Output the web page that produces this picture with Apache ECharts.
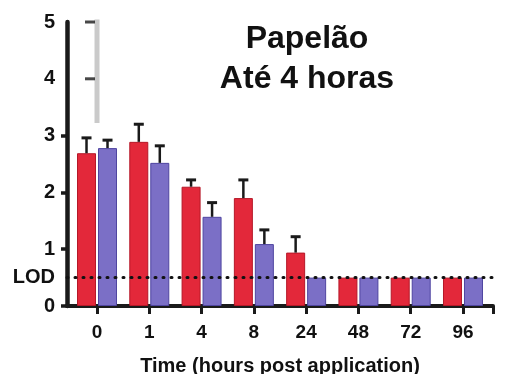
<!DOCTYPE html>
<html><head><meta charset="utf-8">
<script src="https://cdn.jsdelivr.net/npm/echarts@6/dist/echarts.min.js"></script>
<style>html,body{margin:0;padding:0;background:#fff}#c{width:515px;height:374px}</style>
</head><body><div id="c"></div>
<script>
var categories = ['0','1','4','8','24','48','72','96'];
var redValues  = [2.69, 2.89, 2.10, 1.90, 0.94, 0.5, 0.5, 0.5];
var redErrTop  = [2.96, 3.20, 2.22, 2.22, 1.22, null, null, null];
var blueValues = [2.78, 2.52, 1.57, 1.09, 0.5, 0.5, 0.5, 0.5];
var blueErrTop = [2.92, 2.82, 1.82, 1.34, null, null, null, null];
var lod = 0.5;
var yLabelValues = [0, 0.5, 1, 2, 3, 4, 5];
var yTickValues = [0, 1, 2, 3];
var bracketLine = [[0, 5.07], [0, 3.22]];
var bracketTicks = [[0, 5], [0, 4]];

var FONT = 'Liberation Sans';
var BAR_W = 19, OFFS = 10.5;
var xMin = -0.574, xMax = 7.574;

function barData(vals){ return vals.map(function(v,i){ return [i, v]; }); }
function errData(vals, tops){
  var d = [];
  tops.forEach(function(t,i){ if (t != null) d.push([i, vals[i], t]); });
  return d;
}
function errRender(offset){
  return function(params, api){
    var x = api.value(0), lo = api.value(1), hi = api.value(2);
    var p1 = api.coord([x, lo]), p2 = api.coord([x, hi]);
    var cx = p1[0] + offset;
    return {type:'group', children:[
      {type:'line', shape:{x1:cx, y1:p1[1], x2:cx, y2:p2[1]}, style:{stroke:'#1a1a1a', lineWidth:2.5}},
      {type:'line', shape:{x1:cx-5, y1:p2[1], x2:cx+5, y2:p2[1]}, style:{stroke:'#1a1a1a', lineWidth:3}}
    ]};
  };
}

var chart = echarts.init(document.getElementById('c'));
chart.setOption({
  animation:false,
  backgroundColor:'#fff',
  title:{
    text:'Papelão\nAté 4 horas', left:302, top:14, textAlign:'center',
    textStyle:{fontFamily:FONT, fontSize:32, fontWeight:'bold', lineHeight:40, color:'#111'}
  },
  grid:{left:67, right:22, top:22, bottom:68, containLabel:false, outerBoundsMode:'none'},
  xAxis:{
    type:'value', min:xMin, max:xMax,
    name:'Time (hours post application)', nameLocation:'middle', nameGap:50,
    nameTextStyle:{fontFamily:FONT, fontSize:20, fontWeight:'bold', color:'#111'},
    axisLine:{show:true, onZero:false, lineStyle:{color:'#1a1a1a', width:4}},
    axisTick:{show:true, length:8, lineStyle:{color:'#1a1a1a', width:3}, customValues:[0,1,2,3,4,5,6,7,xMax]},
    axisLabel:{fontFamily:FONT, fontSize:19, fontWeight:'bold', color:'#111', margin:17,
      customValues:[0,1,2,3,4,5,6,7], formatter:function(v){ return categories[Math.round(v)]; }},
    splitLine:{show:false}
  },
  yAxis:{
    type:'value', min:0, max:5, interval:1,
    axisLine:{show:true, onZero:false, lineStyle:{color:'#1a1a1a', width:4.5}},
    axisTick:{show:true, length:6, lineStyle:{color:'#1a1a1a', width:3.5}, customValues:yTickValues},
    axisLabel:{fontFamily:FONT, fontSize:20, fontWeight:'bold', color:'#111', margin:12,
      customValues:yLabelValues, formatter:function(v){ return v === lod ? 'LOD' : String(v); }},
    splitLine:{show:false}
  },
  series:[
    {type:'line', data:bracketLine, symbol:'none', lineStyle:{color:'#cacaca', width:5}, z:1, silent:true},
    {type:'scatter', data:bracketTicks, symbol:'rect', symbolSize:[10,3], symbolOffset:[-7,0], itemStyle:{color:'#1a1a1a'}, z:3, silent:true},
    {type:'bar', data:barData(redValues), barWidth:BAR_W, barGap:'10.5%',
      itemStyle:{color:'#e3283a', borderColor:'#b51828', borderWidth:1}},
    {type:'bar', data:barData(blueValues), barWidth:BAR_W, barGap:'10.5%',
      itemStyle:{color:'#7b6fc6', borderColor:'#4f45a0', borderWidth:1},
      markLine:{symbol:'none', silent:true, label:{show:false},
        lineStyle:{color:'#111', type:[1,7], width:3, cap:'round'},
        data:[{yAxis:lod}]}},
    {type:'custom', data:errData(redValues, redErrTop), renderItem:errRender(-OFFS), z:4},
    {type:'custom', data:errData(blueValues, blueErrTop), renderItem:errRender(OFFS), z:4}
  ]
});
</script></body></html>
